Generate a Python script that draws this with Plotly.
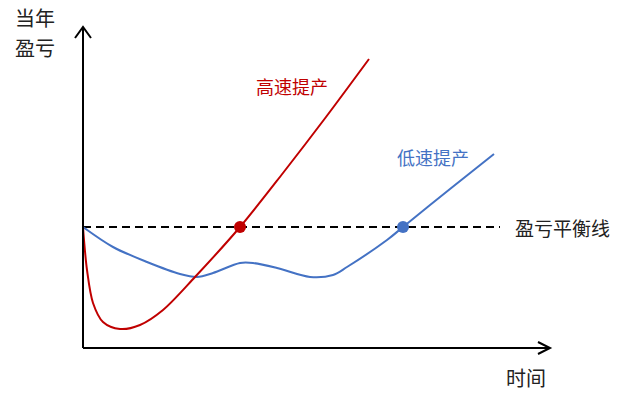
import plotly.graph_objects as go

# Data (time on x, profit relative to breakeven on y)
fast_t = [0, 1, 4, 10, 20, 37, 57, 80, 112, 157, 200, 243, 286]
fast_p = [0, -13, -43, -76, -95, -102, -98, -83, -50, 0, 54, 110, 168]
slow_t = [0, 30, 64, 97, 114, 130, 157, 170, 194, 227, 250, 264, 304, 320, 367, 411]
slow_p = [0, -20, -35, -47, -50, -46, -36, -36, -41, -50, -48, -40, -13, 0, 38, 73]
breakeven_t = [0, 417]
breakeven_p = [0, 0]
fast_cross = (157, 0)
slow_cross = (320, 0)

RED = "#C00000"
BLUE = "#4472C4"
FONT = "Noto Sans CJK SC"

fig = go.Figure()
fig.add_trace(go.Scatter(x=breakeven_t, y=breakeven_p, mode="lines",
                         line=dict(color="black", width=2, dash="8px,5px"),
                         hoverinfo="skip"))
fig.add_trace(go.Scatter(x=slow_t, y=slow_p, mode="lines",
                         line=dict(color=BLUE, width=2, shape="spline", smoothing=0.9)))
fig.add_trace(go.Scatter(x=fast_t, y=fast_p, mode="lines",
                         line=dict(color=RED, width=2, shape="spline", smoothing=0.9)))
fig.add_trace(go.Scatter(x=[fast_cross[0]], y=[fast_cross[1]], mode="markers",
                         marker=dict(color=RED, size=12)))
fig.add_trace(go.Scatter(x=[slow_cross[0]], y=[slow_cross[1]], mode="markers",
                         marker=dict(color=BLUE, size=12)))

axis_line = dict(color="black", width=2)
shapes = [
    dict(type="line", x0=0, y0=-121, x1=0, y1=200, xref="x", yref="y", line=axis_line),
    dict(type="path", path="M -8,189 L 0,200 L 8,189", xref="x", yref="y", line=axis_line),
    dict(type="line", x0=0, y0=-121, x1=467, y1=-121, xref="x", yref="y", line=axis_line),
    dict(type="path", path="M 455,-115 L 467,-121 L 455,-127", xref="x", yref="y", line=axis_line),
]

def ann(text, x, y, color, size, xanchor="center"):
    return dict(text=text, x=x, y=y, xref="x", yref="y", showarrow=False,
                xanchor=xanchor, yanchor="middle", borderpad=0,
                font=dict(family=FONT, size=size, color=color))

annotations = [
    ann("当年", -48, 210, "#222222", 20),
    ann("盈亏", -48, 180, "#222222", 20),
    ann("时间", 443, -150, "#222222", 20),
    ann("盈亏平衡线", 431, 0, "#222222", 19, xanchor="left"),
    ann("高速提产", 209, 141, RED, 18),
    ann("低速提产", 350, 70, BLUE, 18),
]

fig.update_layout(
    width=636, height=400,
    margin=dict(l=0, r=0, t=0, b=0),
    paper_bgcolor="white", plot_bgcolor="white",
    showlegend=False, hovermode=False,
    xaxis=dict(range=[-83, 553], visible=False, fixedrange=True),
    yaxis=dict(range=[-173, 227], visible=False, fixedrange=True),
    shapes=shapes, annotations=annotations,
)

fig.write_html("out.html",
               config={"displayModeBar": False, "staticPlot": True},
               post_script="document.body.style.margin='0';")
